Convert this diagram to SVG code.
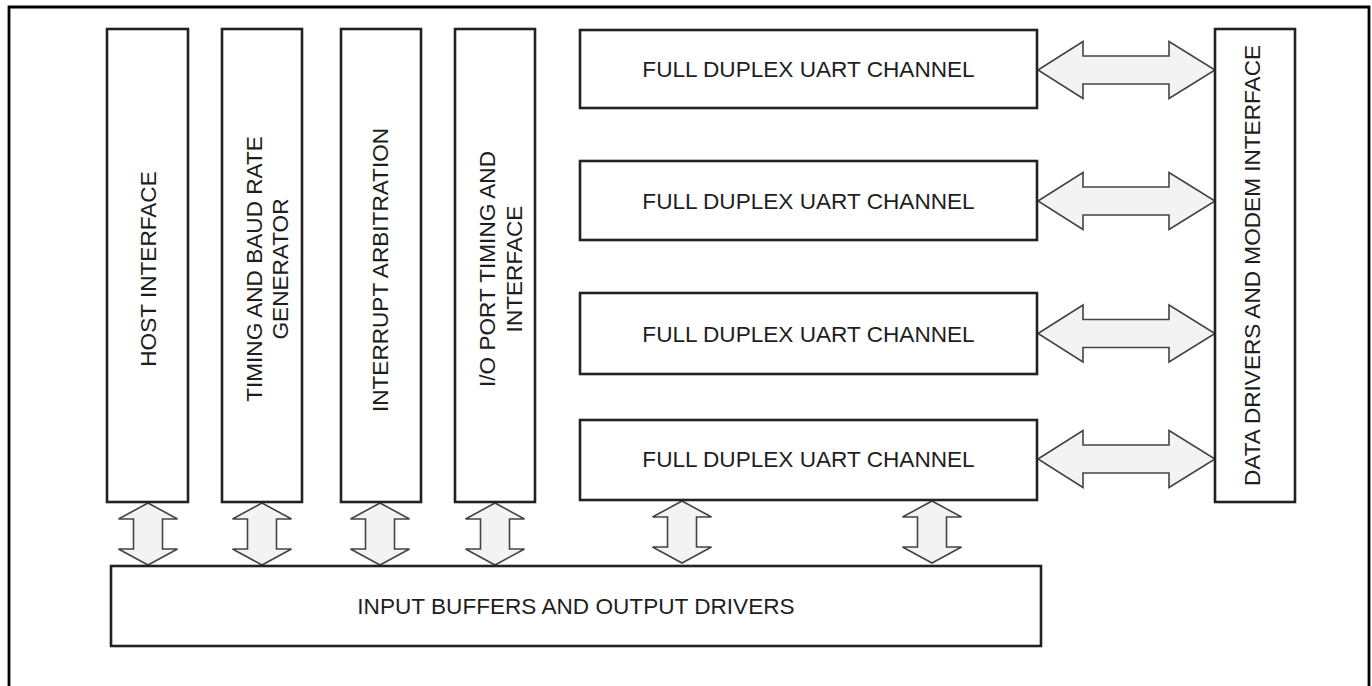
<svg xmlns="http://www.w3.org/2000/svg" xmlns:xlink="http://www.w3.org/1999/xlink" width="1372" height="686" viewBox="0 0 1372 686">
<style>
.box{fill:#ffffff;stroke:#222222;stroke-width:2.6}
.frame{fill:none;stroke:#000000;stroke-width:2.8}
.lbl{font-family:"Liberation Sans",Arial,sans-serif;font-size:22.6px;fill:#1e1e1e;text-anchor:middle}
.arr{fill:#f3f3f3;stroke:#444444;stroke-width:1.6;stroke-linejoin:miter}
</style>
<defs>
<path id="harrow" class="arr" d="M0,0 L45,-28.5 L45,-14 L131,-14 L131,-28.5 L177,0 L131,28.5 L131,14 L45,14 L45,28.5 Z"/>
<path id="varrow" class="arr" d="M0,0 L29.5,16 L14.5,16 L14.5,46 L29.5,46 L0,62 L-29.5,46 L-14.5,46 L-14.5,16 L-29.5,16 Z"/>
</defs>
<rect width="1372" height="686" fill="#ffffff"/>
<path class="frame" d="M9,686 L9,7 L1369,7 L1369,686"/>

<g id="connectors">
<use xlink:href="#harrow" transform="translate(1038,70)"/>
<use xlink:href="#harrow" transform="translate(1038,201)"/>
<use xlink:href="#harrow" transform="translate(1038,333.5)"/>
<use xlink:href="#harrow" transform="translate(1038,459)"/>
<use xlink:href="#varrow" transform="translate(148,503)"/>
<use xlink:href="#varrow" transform="translate(262,503)"/>
<use xlink:href="#varrow" transform="translate(380,503)"/>
<use xlink:href="#varrow" transform="translate(495,503)"/>
<use xlink:href="#varrow" transform="translate(682,501)"/>
<use xlink:href="#varrow" transform="translate(932,501)"/>
</g>

<g id="host-interface">
<rect class="box" x="107" y="29" width="81" height="473"/>
<text class="lbl" transform="translate(156,269) rotate(-90)">HOST INTERFACE</text>
</g>
<g id="timing-baud">
<rect class="box" x="222" y="29" width="80" height="473"/>
<text class="lbl" transform="translate(262,269) rotate(-90)"><tspan x="0" y="0">TIMING AND BAUD RATE</tspan><tspan x="0" y="26">GENERATOR</tspan></text>
</g>
<g id="interrupt-arbitration">
<rect class="box" x="341" y="29" width="80" height="473"/>
<text class="lbl" transform="translate(388,270) rotate(-90)">INTERRUPT ARBITRATION</text>
</g>
<g id="io-port">
<rect class="box" x="455" y="29" width="80" height="473"/>
<text class="lbl" transform="translate(495,269) rotate(-90)"><tspan x="0" y="0">I/O PORT TIMING AND</tspan><tspan x="0" y="27">INTERFACE</tspan></text>
</g>
<g id="uart-1">
<rect class="box" x="580" y="30" width="457" height="78"/>
<text class="lbl" x="808.5" y="77">FULL DUPLEX UART CHANNEL</text>
</g>
<g id="uart-2">
<rect class="box" x="580" y="161" width="457" height="79"/>
<text class="lbl" x="808.5" y="208.5">FULL DUPLEX UART CHANNEL</text>
</g>
<g id="uart-3">
<rect class="box" x="580" y="293" width="457" height="81"/>
<text class="lbl" x="808.5" y="341.5">FULL DUPLEX UART CHANNEL</text>
</g>
<g id="uart-4">
<rect class="box" x="580" y="420" width="457" height="80"/>
<text class="lbl" x="808.5" y="467">FULL DUPLEX UART CHANNEL</text>
</g>
<g id="data-drivers">
<rect class="box" x="1215" y="29" width="80" height="473"/>
<text class="lbl" transform="translate(1260,265.5) rotate(-90)">DATA DRIVERS AND MODEM INTERFACE</text>
</g>
<g id="input-buffers">
<rect class="box" x="111" y="566" width="930" height="80"/>
<text class="lbl" x="576" y="614">INPUT BUFFERS AND OUTPUT DRIVERS</text>
</g>
</svg>
